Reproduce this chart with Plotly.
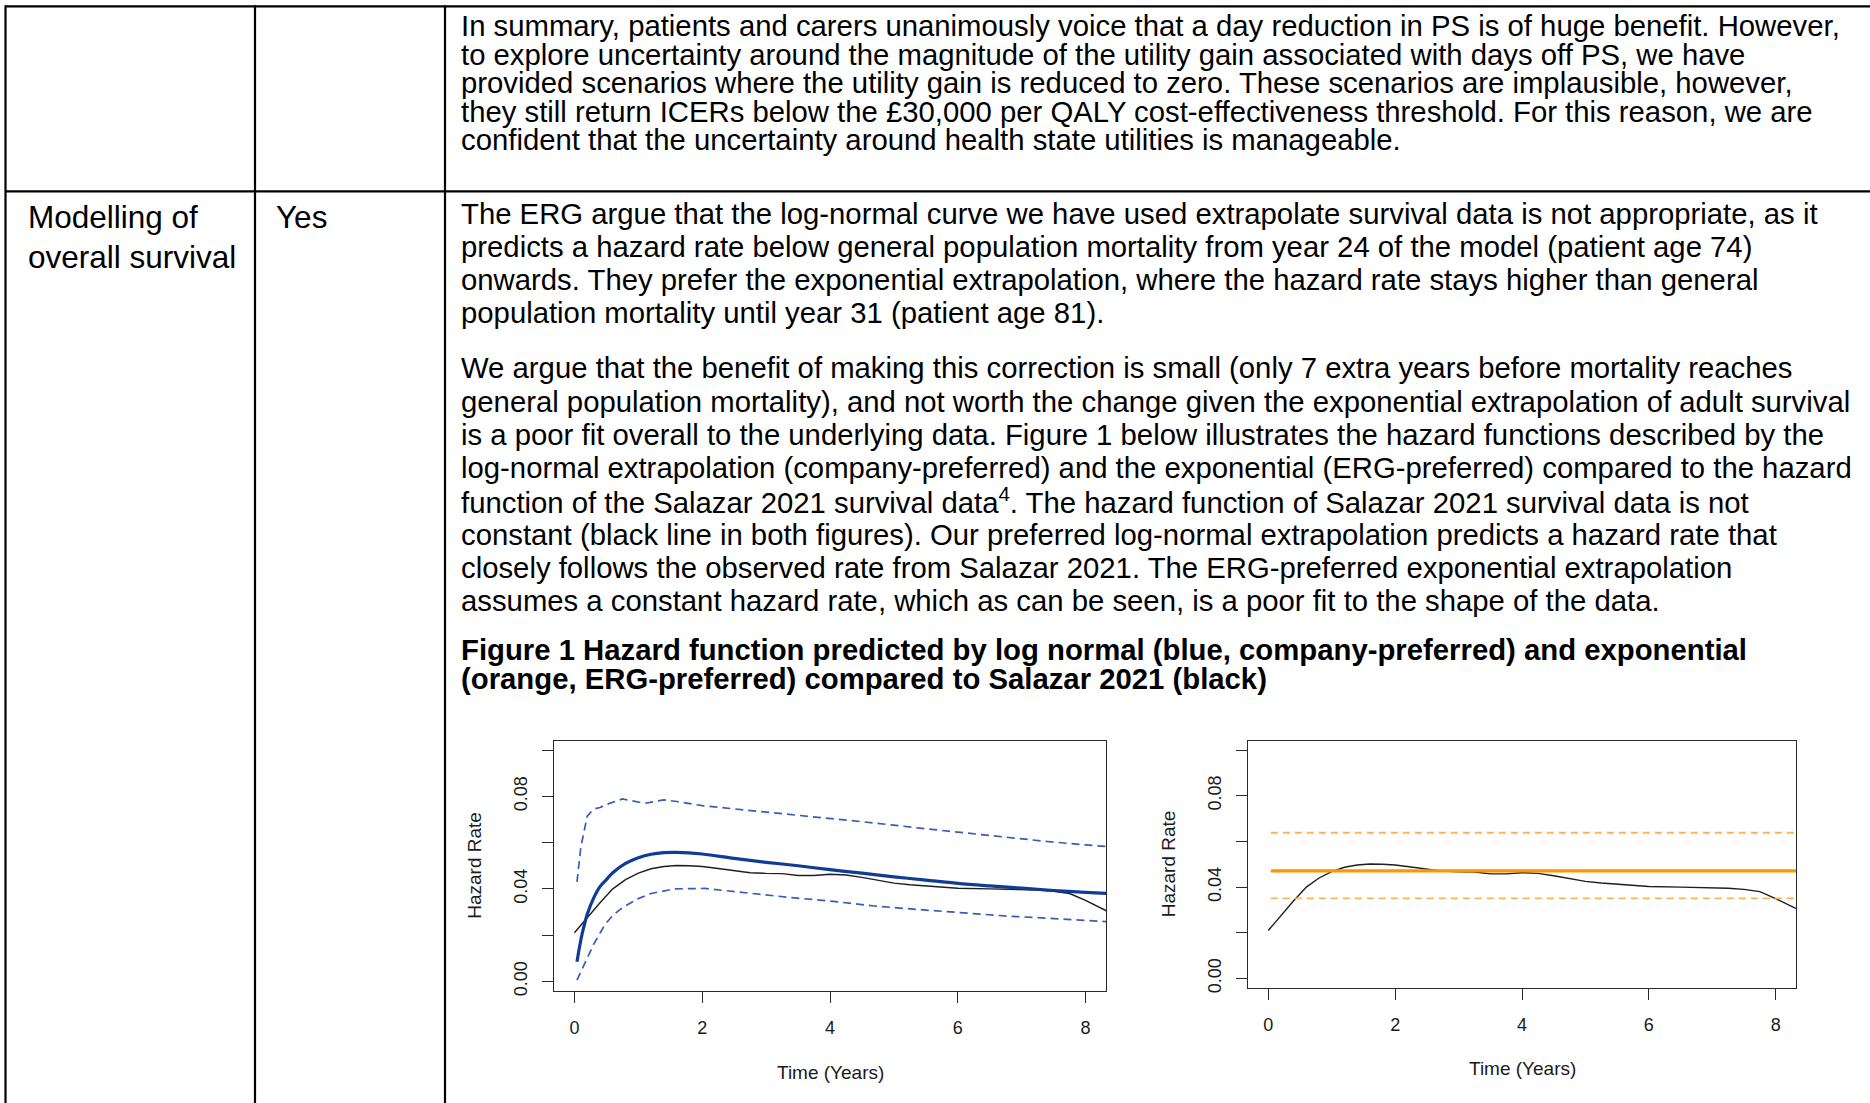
import plotly.graph_objects as go

W, H = 1870, 1103
FONT = "Arial, Liberation Sans, sans-serif"

# ---------------- data ----------------
time_obs = [0.0, 0.2, 0.4, 0.6, 0.8, 1.0, 1.2, 1.4, 1.6, 1.8, 2.0, 2.25, 2.5, 2.75,
            3.0, 3.25, 3.5, 3.75, 4.0, 4.25, 4.5, 4.75, 5.0, 5.25, 5.5, 6.0, 6.5,
            7.0, 7.25, 7.5, 7.75, 8.0, 8.4]
hazard_obs = [0.0210, 0.0275, 0.0340, 0.0400, 0.0440, 0.0468, 0.0487, 0.0497, 0.0501,
              0.0500, 0.0497, 0.0488, 0.0478, 0.0470, 0.0467, 0.0466, 0.0458, 0.0458,
              0.0463, 0.0460, 0.0450, 0.0438, 0.0425, 0.0418, 0.0412, 0.0403, 0.0400,
              0.0397, 0.0395, 0.0390, 0.0380, 0.0350, 0.0295]

time_lognormal = [0.04, 0.08, 0.12, 0.16, 0.2, 0.3, 0.4, 0.5, 0.6, 0.8, 1.0, 1.2, 1.4,
                  1.6, 2.0, 2.5, 3.0, 3.5, 4.0, 4.5, 5.0, 5.5, 6.0, 6.5, 7.0, 7.5, 8.0, 8.4]
hazard_lognormal = [0.0085, 0.0150, 0.0205, 0.0250, 0.0290, 0.0360, 0.0410, 0.0440,
                    0.0470, 0.0510, 0.0535, 0.0550, 0.0557, 0.0558, 0.0551, 0.0532,
                    0.0515, 0.0500, 0.0483, 0.0468, 0.0452, 0.0438, 0.0424, 0.0413,
                    0.0403, 0.0393, 0.0385, 0.0379]

time_lognormal_upper = [0.04, 0.1, 0.2, 0.3, 0.4, 0.5, 0.75, 1.0, 1.1, 1.4, 1.6, 2.0,
                        2.65, 3.3, 4.0, 4.7, 5.4, 6.0, 6.7, 7.4, 8.0, 8.4]
hazard_lognormal_upper = [0.0430, 0.0580, 0.0715, 0.0745, 0.0752, 0.0765, 0.0789,
                          0.0775, 0.0770, 0.0785, 0.0778, 0.0760, 0.0742, 0.0725,
                          0.0703, 0.0685, 0.0663, 0.0645, 0.0623, 0.0605, 0.0590, 0.0582]

time_lognormal_lower = [0.04, 0.1, 0.2, 0.3, 0.48, 0.6, 0.75, 1.0, 1.2, 1.56, 2.04,
                        2.65, 3.33, 4.01, 4.69, 5.37, 6.05, 6.73, 7.41, 8.4]
hazard_lognormal_lower = [0.0005, 0.0040, 0.0103, 0.0160, 0.0247, 0.0285, 0.0319,
                          0.0358, 0.0380, 0.0400, 0.0402, 0.0383, 0.0364, 0.0347,
                          0.0326, 0.0311, 0.0297, 0.0283, 0.0273, 0.0257]

time_exp = [0.04, 8.4]
hazard_exp = [0.0471, 0.0471]
hazard_exp_upper = [0.0638, 0.0638]
hazard_exp_lower = [0.0351, 0.0351]

x_tick_vals = [0, 2, 4, 6, 8]
x_tick_text = ["0", "2", "4", "6", "8"]
y_tick_vals = [0.0, 0.04, 0.08]
y_tick_text = ["0.00", "0.04", "0.08"]
y_minor_vals = [0.02, 0.06, 0.10]
x_range = [-0.32, 8.32]
y_range = [-0.004, 0.104]

para_summary = [
    "In summary, patients and carers unanimously voice that a day reduction in PS is of huge benefit. However,",
    "to explore uncertainty around the magnitude of the utility gain associated with days off PS, we have",
    "provided scenarios where the utility gain is reduced to zero. These scenarios are implausible, however,",
    "they still return ICERs below the £30,000 per QALY cost-effectiveness threshold. For this reason, we are",
    "confident that the uncertainty around health state utilities is manageable.",
]
para_erg = [
    "The ERG argue that the log-normal curve we have used extrapolate survival data is not appropriate, as it",
    "predicts a hazard rate below general population mortality from year 24 of the model (patient age 74)",
    "onwards. They prefer the exponential extrapolation, where the hazard rate stays higher than general",
    "population mortality until year 31 (patient age 81).",
]
para_argue = [
    "We argue that the benefit of making this correction is small (only 7 extra years before mortality reaches",
    "general population mortality), and not worth the change given the exponential extrapolation of adult survival",
    "is a poor fit overall to the underlying data. Figure 1 below illustrates the hazard functions described by the",
    "log-normal extrapolation (company-preferred) and the exponential (ERG-preferred) compared to the hazard",
    "function of the Salazar 2021 survival data<sup>4</sup>. The hazard function of Salazar 2021 survival data is not",
    "constant (black line in both figures). Our preferred log-normal extrapolation predicts a hazard rate that",
    "closely follows the observed rate from Salazar 2021. The ERG-preferred exponential extrapolation",
    "assumes a constant hazard rate, which as can be seen, is a poor fit to the shape of the data.",
]
caption = [
    "<b>Figure 1 Hazard function predicted by log normal (blue, company-preferred) and exponential</b>",
    "<b>(orange, ERG-preferred) compared to Salazar 2021 (black)</b>",
]
row_label = ["Modelling of", "overall survival"]
row_answer = "Yes"
axis_title_x = "Time (Years)"
axis_title_y = "Hazard Rate"


def px(x):
    return x / W


def py(y):
    return 1 - y / H


fig = go.Figure()

BLACK = "#1e1e1e"
BLUE = "#103c98"
BLUE_D = "#3a5cb4"
ORANGE = "#ff9500"
ORANGE_D = "#ffb447"

# ---- left panel: log-normal ----
fig.add_trace(go.Scatter(x=time_obs, y=hazard_obs, mode="lines",
                         line=dict(color=BLACK, width=1.4), xaxis="x", yaxis="y"))
fig.add_trace(go.Scatter(x=time_lognormal_upper, y=hazard_lognormal_upper, mode="lines",
                         line=dict(color=BLUE_D, width=1.7, dash="8px,5px"), xaxis="x", yaxis="y"))
fig.add_trace(go.Scatter(x=time_lognormal_lower, y=hazard_lognormal_lower, mode="lines",
                         line=dict(color=BLUE_D, width=1.7, dash="8px,5px"), xaxis="x", yaxis="y"))
fig.add_trace(go.Scatter(x=time_lognormal, y=hazard_lognormal, mode="lines", line_shape="spline",
                         line=dict(color=BLUE, width=3.2), xaxis="x", yaxis="y"))

# ---- right panel: exponential ----
fig.add_trace(go.Scatter(x=time_obs, y=hazard_obs, mode="lines",
                         line=dict(color=BLACK, width=1.4), xaxis="x2", yaxis="y2"))
fig.add_trace(go.Scatter(x=time_exp, y=hazard_exp_upper, mode="lines",
                         line=dict(color=ORANGE_D, width=1.8, dash="7px,5px"), xaxis="x2", yaxis="y2"))
fig.add_trace(go.Scatter(x=time_exp, y=hazard_exp_lower, mode="lines",
                         line=dict(color=ORANGE_D, width=1.8, dash="7px,5px"), xaxis="x2", yaxis="y2"))
fig.add_trace(go.Scatter(x=time_exp, y=hazard_exp, mode="lines",
                         line=dict(color=ORANGE, width=3.2), xaxis="x2", yaxis="y2"))

AX_COL = "#2a2a2a"
common = dict(showline=True, linecolor=AX_COL, linewidth=1.4, mirror=True,
              ticks="outside", ticklen=11, tickwidth=1.3, tickcolor=AX_COL,
              showgrid=False, zeroline=False,
              tickfont=dict(family=FONT, size=18, color="#1a1a1a"))

xcommon = dict(common, range=x_range, tickvals=x_tick_vals, ticktext=x_tick_text,
               ticklabelstandoff=10)
ycommon = dict(common, range=y_range, tickvals=y_tick_vals, ticktext=y_tick_text,
               tickangle=-90, ticklabelstandoff=8,
               minor=dict(tickmode="array", tickvals=y_minor_vals, ticks="outside",
                          ticklen=11, tickwidth=1.3, tickcolor=AX_COL, showgrid=False))

L_BOX = (554, 1106, 745, 996)
R_BOX = (1248, 1796, 745, 993)

fig.update_layout(
    xaxis=dict(xcommon, domain=[px(L_BOX[0]), px(L_BOX[1])], anchor="y"),
    yaxis=dict(ycommon, domain=[py(L_BOX[3]), py(L_BOX[2])], anchor="x"),
    xaxis2=dict(xcommon, domain=[px(R_BOX[0]), px(R_BOX[1])], anchor="y2"),
    yaxis2=dict(ycommon, domain=[py(R_BOX[3]), py(R_BOX[2])], anchor="x2"),
)

ann = []


def text(x, y, s, size=29.3):
    ann.append(dict(x=px(x), y=py(y), xref="paper", yref="paper", text=s,
                    showarrow=False, xanchor="left", yanchor="middle",
                    font=dict(family=FONT, size=size, color="#000000")))


TX = 459
for i, s in enumerate(para_summary):
    text(TX, 26 + i * 28.6, s)
for i, s in enumerate(para_erg):
    text(TX, 215 + i * 33.2, s)
for i, s in enumerate(para_argue):
    text(TX, 370 + i * 33.4, s)
for i, s in enumerate(caption):
    text(TX, 653 + i * 29.5, s)

text(26, 218, row_label[0], size=31.5)
text(26, 258, row_label[1], size=31.5)
text(274, 218, row_answer, size=31.5)

# axis titles
for box, ty_x, hx in ((L_BOX, 1078, 475), (R_BOX, 1074, 1168)):
    ann.append(dict(x=px((box[0] + box[1]) / 2), y=py(ty_x), xref="paper", yref="paper",
                    text=axis_title_x, showarrow=False, xanchor="center", yanchor="middle",
                    font=dict(family=FONT, size=19, color="#1a1a1a")))
    ann.append(dict(x=px(hx), y=py((box[2] + box[3]) / 2), xref="paper", yref="paper",
                    text=axis_title_y, showarrow=False, xanchor="center", yanchor="middle",
                    textangle=-90, font=dict(family=FONT, size=19, color="#1a1a1a")))

shapes = []
LW = 2.2


def hline(y, x0, x1):
    shapes.append(dict(type="line", xref="paper", yref="paper", x0=px(x0), x1=px(x1),
                       y0=py(y), y1=py(y), line=dict(color="#000000", width=LW)))


def vline(x, y0, y1):
    shapes.append(dict(type="line", xref="paper", yref="paper", x0=px(x), x1=px(x),
                       y0=py(y0), y1=py(y1), line=dict(color="#000000", width=LW)))


hline(6.5, 5, W)
hline(192.5, 5, W)
for xv in (5.5, 255, 445):
    vline(xv, 5.5, H + 10)

fig.update_layout(
    width=W, height=H, margin=dict(l=0, r=0, t=0, b=0),
    paper_bgcolor="white", plot_bgcolor="white",
    showlegend=False, annotations=ann, shapes=shapes,
    font=dict(family=FONT),
)

fig.write_html("out.html", config={"displayModeBar": False},
               post_script="document.body.style.margin='0px';")
